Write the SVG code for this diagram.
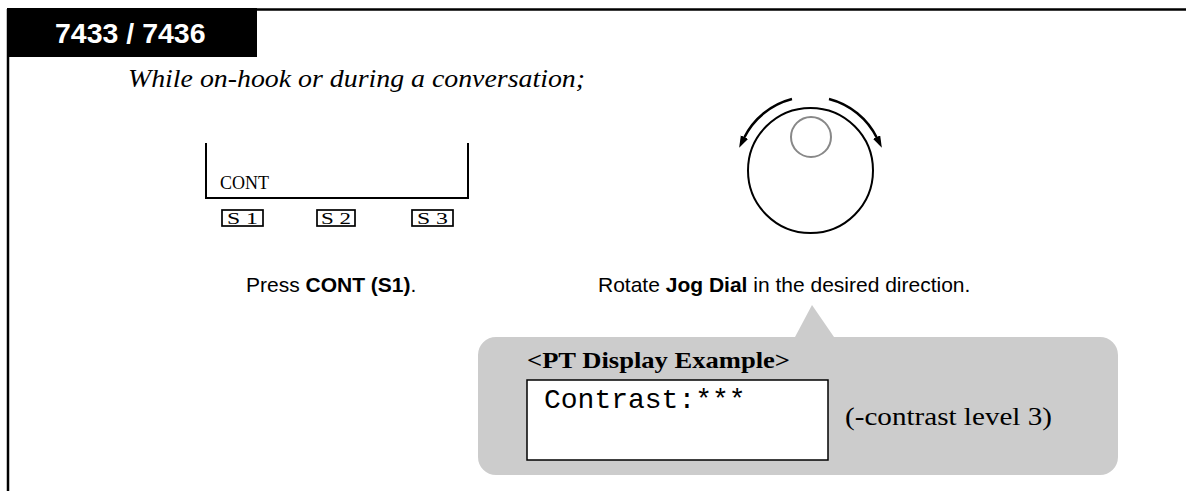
<svg xmlns="http://www.w3.org/2000/svg" width="1186" height="491" viewBox="0 0 1186 491">
<style>
.serif{font-family:"Liberation Serif","Times New Roman",serif;fill:#000}
.sans{font-family:"Liberation Sans",Arial,sans-serif;fill:#000}
.mono{font-family:"Liberation Mono","Courier New",monospace;fill:#000}
.line{stroke:#000;fill:none}
.key{fill:#fff;stroke:#000;stroke-width:1.7}
</style>
<defs>
<marker id="ah" markerWidth="14" markerHeight="10" refX="1" refY="4" orient="auto" markerUnits="userSpaceOnUse">
<path d="M0,0 L12,4 L0,8 z" fill="#000"/>
</marker>
</defs>
<g id="frame">
<line class="line" x1="8" y1="9.5" x2="1186" y2="9.5" stroke-width="2.5"/>
<line class="line" x1="8" y1="9" x2="8" y2="491" stroke-width="2.5"/>
<rect x="7" y="8" width="250" height="49" fill="#000"/>
<text x="55" y="43" class="sans" font-size="28.5" font-weight="bold" style="fill:#fff">7433 / 7436</text>
</g>
<text x="128" y="87" class="serif" font-size="26" font-style="italic" textLength="457" lengthAdjust="spacingAndGlyphs">While on-hook or during a conversation;</text>
<g id="softkeys">
<path class="line" stroke-width="2" d="M206,143 V198 H468 V143"/>
<text x="220" y="189" class="serif" font-size="18">CONT</text>
<rect class="key" x="222" y="210" width="41" height="16"/>
<text x="227" y="224" class="serif" font-size="17" textLength="31" lengthAdjust="spacingAndGlyphs">S 1</text>
<rect class="key" x="317" y="210" width="38" height="16"/>
<text x="321" y="224" class="serif" font-size="17" textLength="30" lengthAdjust="spacingAndGlyphs">S 2</text>
<rect class="key" x="412" y="210" width="41" height="16"/>
<text x="417" y="224" class="serif" font-size="17" textLength="31" lengthAdjust="spacingAndGlyphs">S 3</text>
</g>
<g id="jogdial">
<circle cx="810.5" cy="170.5" r="62.5" fill="none" stroke="#000" stroke-width="2"/>
<circle cx="811" cy="137" r="20" fill="none" stroke="#888" stroke-width="2"/>
</g>
<g id="connectors">
<path class="line" stroke-width="2.5" d="M792,99 A74,74 0 0 0 744,138" marker-end="url(#ah)"/>
<path class="line" stroke-width="2.5" d="M829,99 A74,74 0 0 1 877,138" marker-end="url(#ah)"/>
</g>
<text x="246" y="292" class="sans" font-size="21">Press <tspan font-weight="bold">CONT (S1)</tspan>.</text>
<text x="598" y="292" class="sans" font-size="21">Rotate <tspan font-weight="bold">Jog Dial</tspan> in the desired direction.</text>
<g id="callout">
<path fill="#cccccc" d="M496,337 H795 L812,305 L834,337 H1100 A18,18 0 0 1 1118,355 V457 A18,18 0 0 1 1100,475 H496 A18,18 0 0 1 478,457 V355 A18,18 0 0 1 496,337 Z"/>
<text x="527" y="368" class="serif" font-size="23" font-weight="bold" textLength="263" lengthAdjust="spacingAndGlyphs">&lt;PT Display Example&gt;</text>
<rect x="527" y="380" width="301" height="80" fill="#fff" stroke="#000" stroke-width="1.5"/>
<text x="544" y="408" class="mono" font-size="28">Contrast:***</text>
<text x="845" y="425" class="serif" font-size="26" textLength="207" lengthAdjust="spacingAndGlyphs">(-contrast level 3)</text>
</g>
</svg>
